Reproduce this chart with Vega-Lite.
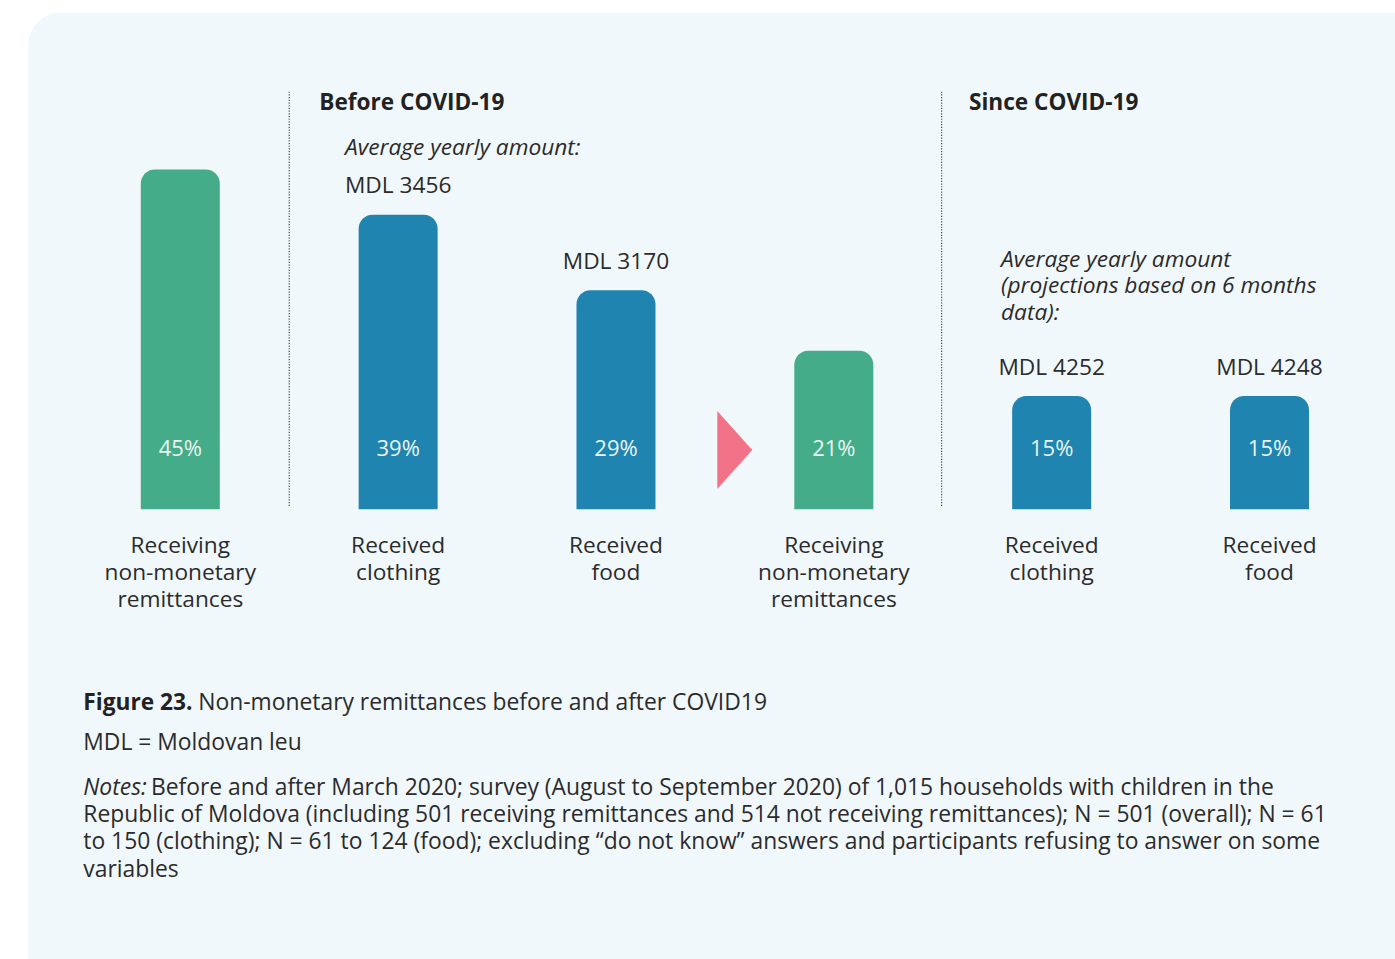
{
  "$schema": "https://vega.github.io/schema/vega-lite/v6.json",
  "usermeta": {"embedOptions": {"actions": false}},
  "width": 1395,
  "height": 959,
  "padding": 0,
  "autosize": {"type": "fit", "contains": "padding"},
  "background": "#ffffff",
  "config": {
    "view": {"stroke": null},
    "font": "Open Sans",
    "text": {"font": "Open Sans"}
  },
  "datasets": {
    "panel": [{"x": -0.6978, "x2": 6.5, "y": 0.65775, "y2": -0.8}],
    "dividers": [{"x": 0.5}, {"x": 3.495}],
    "bars": [
      {"pos": 0, "share": 0.45, "period": "Before COVID-19", "type": "Any non-monetary", "label": "Receiving\nnon-monetary\nremittances", "amount": ""},
      {"pos": 1, "share": 0.39, "period": "Before COVID-19", "type": "Item", "label": "Received\nclothing", "amount": "MDL 3456"},
      {"pos": 2, "share": 0.29, "period": "Before COVID-19", "type": "Item", "label": "Received\nfood", "amount": "MDL 3170"},
      {"pos": 3, "share": 0.21, "period": "Since COVID-19", "type": "Any non-monetary", "label": "Receiving\nnon-monetary\nremittances", "amount": ""},
      {"pos": 4, "share": 0.15, "period": "Since COVID-19", "type": "Item", "label": "Received\nclothing", "amount": "MDL 4252"},
      {"pos": 5, "share": 0.15, "period": "Since COVID-19", "type": "Item", "label": "Received\nfood", "amount": "MDL 4248"}
    ],
    "arrow": [{"x": 2.5454, "y": 0.07854}],
    "notes": [
      {"x": 0.6381, "y": 0.52887, "role": "heading", "text": "Before COVID-19"},
      {"x": 3.6206, "y": 0.52887, "role": "heading", "text": "Since COVID-19"},
      {"x": 0.7561, "y": 0.46927, "role": "subhead", "text": "Average yearly amount:"},
      {"x": 3.7675, "y": 0.32132, "role": "subhead", "text": "Average yearly amount\n(projections based on 6 months\ndata):"},
      {"x": -0.4453, "y": -0.26583, "role": "figure", "text": "Figure 23."},
      {"x": 0.0826, "y": -0.26583, "role": "caption", "text": "Non-monetary remittances before and after COVID19"},
      {"x": -0.4453, "y": -0.31947, "role": "caption", "text": "MDL = Moldovan leu"},
      {"x": -0.4453, "y": -0.37841, "role": "notesLabel", "text": "Notes:"},
      {"x": -0.1345, "y": -0.37841, "role": "caption", "text": "Before and after March 2020; survey (August to September 2020) of 1,015 households with children in the"},
      {"x": -0.4453, "y": -0.41457, "role": "caption", "text": "Republic of Moldova (including 501 receiving remittances and 514 not receiving remittances); N = 501 (overall); N = 61\nto 150 (clothing); N = 61 to 124 (food); excluding “do not know” answers and participants refusing to answer on some\nvariables"}
    ]
  },
  "layer": [
    {
      "data": {"name": "panel"},
      "mark": {"type": "rect", "fill": "#f1f8fc", "cornerRadius": 32, "clip": true},
      "encoding": {
        "x": {"field": "x", "type": "quantitative", "scale": {"domain": [-0.82767, 5.57611], "nice": false, "zero": false, "padding": 0}, "axis": null},
        "x2": {"field": "x2"},
        "y": {"field": "y", "type": "quantitative", "scale": {"domain": [-0.59563, 0.67457], "nice": false, "zero": false, "padding": 0}, "axis": null},
        "y2": {"field": "y2"}
      }
    },
    {
      "data": {"name": "dividers"},
      "mark": {"type": "rule", "stroke": "#4a4a4a", "strokeWidth": 1.2, "strokeDash": [1.2, 1.5]},
      "encoding": {
        "x": {"field": "x", "type": "quantitative", "scale": {"domain": [-0.82767, 5.57611], "nice": false, "zero": false, "padding": 0}, "axis": null},
        "y": {"datum": 0.5532, "type": "quantitative", "scale": {"domain": [-0.59563, 0.67457], "nice": false, "zero": false, "padding": 0}, "axis": null},
        "y2": {"datum": 0.0035}
      }
    },
    {
      "data": {"name": "bars"},
      "mark": {"type": "bar", "width": 79, "cornerRadiusTopLeft": 14, "cornerRadiusTopRight": 14},
      "encoding": {
        "x": {"field": "pos", "type": "quantitative", "scale": {"domain": [-0.82767, 5.57611], "nice": false, "zero": false, "padding": 0}, "axis": null},
        "y": {"field": "share", "type": "quantitative", "scale": {"domain": [-0.59563, 0.67457], "nice": false, "zero": false, "padding": 0}, "axis": null},
        "y2": {"datum": 0},
        "color": {"field": "type", "type": "nominal", "scale": {"domain": ["Any non-monetary", "Item"], "range": ["#44ac88", "#1f84af"]}, "legend": null}
      }
    },
    {
      "data": {"name": "bars"},
      "mark": {"type": "text", "align": "center", "baseline": "alphabetic", "fontSize": 22, "fill": "#eaf5f1"},
      "encoding": {
        "x": {"field": "pos", "type": "quantitative", "scale": {"domain": [-0.82767, 5.57611], "nice": false, "zero": false, "padding": 0}, "axis": null},
        "y": {"datum": 0.0706, "type": "quantitative", "scale": {"domain": [-0.59563, 0.67457], "nice": false, "zero": false, "padding": 0}, "axis": null},
        "text": {"field": "share", "type": "quantitative", "format": ".0%"}
      }
    },
    {
      "data": {"name": "bars"},
      "mark": {"type": "text", "align": "center", "baseline": "alphabetic", "fontSize": 22.7, "fill": "#2b2b2b", "lineBreak": "\n", "lineHeight": 27},
      "encoding": {
        "x": {"field": "pos", "type": "quantitative", "scale": {"domain": [-0.82767, 5.57611], "nice": false, "zero": false, "padding": 0}, "axis": null},
        "y": {"datum": -0.05788, "type": "quantitative", "scale": {"domain": [-0.59563, 0.67457], "nice": false, "zero": false, "padding": 0}, "axis": null},
        "text": {"field": "label"}
      }
    },
    {
      "data": {"name": "bars"},
      "mark": {"type": "text", "align": "center", "baseline": "alphabetic", "fontSize": 22.7, "fill": "#2b2b2b", "dy": -21.5},
      "encoding": {
        "x": {"field": "pos", "type": "quantitative", "scale": {"domain": [-0.82767, 5.57611], "nice": false, "zero": false, "padding": 0}, "axis": null},
        "y": {"field": "share", "type": "quantitative", "scale": {"domain": [-0.59563, 0.67457], "nice": false, "zero": false, "padding": 0}, "axis": null},
        "text": {"field": "amount"}
      }
    },
    {
      "data": {"name": "arrow"},
      "mark": {"type": "point", "shape": "M-0.4487,-1L0.4487,0L-0.4487,1Z", "size": 6084, "filled": true, "fill": "#f27388", "opacity": 1, "strokeWidth": 0},
      "encoding": {
        "x": {"field": "x", "type": "quantitative", "scale": {"domain": [-0.82767, 5.57611], "nice": false, "zero": false, "padding": 0}, "axis": null},
        "y": {"field": "y", "type": "quantitative", "scale": {"domain": [-0.59563, 0.67457], "nice": false, "zero": false, "padding": 0}, "axis": null}
      }
    },
    {
      "data": {"name": "notes"},
      "transform": [{"filter": "datum.role === 'heading'"}],
      "mark": {"type": "text", "align": "left", "baseline": "alphabetic", "fontSize": 22.6, "fontWeight": "bold", "fill": "#222222"},
      "encoding": {
        "x": {"field": "x", "type": "quantitative", "scale": {"domain": [-0.82767, 5.57611], "nice": false, "zero": false, "padding": 0}, "axis": null},
        "y": {"field": "y", "type": "quantitative", "scale": {"domain": [-0.59563, 0.67457], "nice": false, "zero": false, "padding": 0}, "axis": null},
        "text": {"field": "text"}
      }
    },
    {
      "data": {"name": "notes"},
      "transform": [{"filter": "datum.role === 'subhead'"}],
      "mark": {"type": "text", "align": "left", "baseline": "alphabetic", "fontSize": 22.7, "fontStyle": "italic", "fill": "#2b2b2b", "lineBreak": "\n", "lineHeight": 26.7},
      "encoding": {
        "x": {"field": "x", "type": "quantitative", "scale": {"domain": [-0.82767, 5.57611], "nice": false, "zero": false, "padding": 0}, "axis": null},
        "y": {"field": "y", "type": "quantitative", "scale": {"domain": [-0.59563, 0.67457], "nice": false, "zero": false, "padding": 0}, "axis": null},
        "text": {"field": "text"}
      }
    },
    {
      "data": {"name": "notes"},
      "transform": [{"filter": "datum.role === 'figure'"}],
      "mark": {"type": "text", "align": "left", "baseline": "alphabetic", "fontSize": 22.7, "fontWeight": "bold", "fill": "#222222"},
      "encoding": {
        "x": {"field": "x", "type": "quantitative", "scale": {"domain": [-0.82767, 5.57611], "nice": false, "zero": false, "padding": 0}, "axis": null},
        "y": {"field": "y", "type": "quantitative", "scale": {"domain": [-0.59563, 0.67457], "nice": false, "zero": false, "padding": 0}, "axis": null},
        "text": {"field": "text"}
      }
    },
    {
      "data": {"name": "notes"},
      "transform": [{"filter": "datum.role === 'notesLabel'"}],
      "mark": {"type": "text", "align": "left", "baseline": "alphabetic", "fontSize": 22.85, "fontStyle": "italic", "fill": "#2b2b2b"},
      "encoding": {
        "x": {"field": "x", "type": "quantitative", "scale": {"domain": [-0.82767, 5.57611], "nice": false, "zero": false, "padding": 0}, "axis": null},
        "y": {"field": "y", "type": "quantitative", "scale": {"domain": [-0.59563, 0.67457], "nice": false, "zero": false, "padding": 0}, "axis": null},
        "text": {"field": "text"}
      }
    },
    {
      "data": {"name": "notes"},
      "transform": [{"filter": "datum.role === 'caption'"}],
      "mark": {"type": "text", "align": "left", "baseline": "alphabetic", "fontSize": 22.85, "fill": "#2b2b2b", "lineBreak": "\n", "lineHeight": 27.2},
      "encoding": {
        "x": {"field": "x", "type": "quantitative", "scale": {"domain": [-0.82767, 5.57611], "nice": false, "zero": false, "padding": 0}, "axis": null},
        "y": {"field": "y", "type": "quantitative", "scale": {"domain": [-0.59563, 0.67457], "nice": false, "zero": false, "padding": 0}, "axis": null},
        "text": {"field": "text"}
      }
    }
  ]
}
